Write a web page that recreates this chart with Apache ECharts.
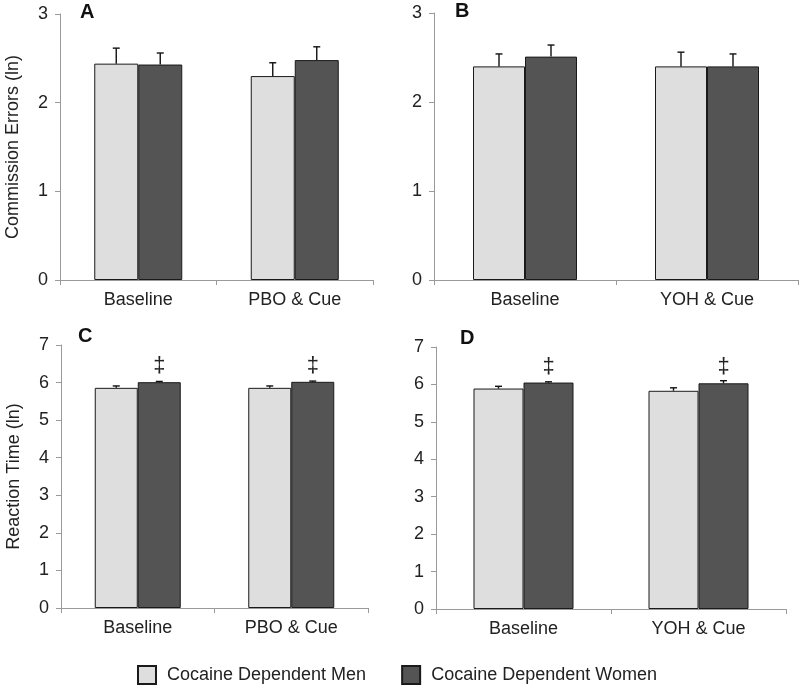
<!DOCTYPE html>
<html>
<head>
<meta charset="utf-8">
<script src="https://cdn.jsdelivr.net/npm/echarts@6/dist/echarts.min.js"></script>
<style>
  html, body { margin: 0; padding: 0; background: #fff; }
  #main { width: 800px; height: 686px; }
</style>
</head>
<body>
<div id="main"></div>
<script>
// categories
var catsPBO = ['Baseline', 'PBO & Cue'];
var catsYOH = ['Baseline', 'YOH & Cue'];
var seriesNames = ['Cocaine Dependent Men', 'Cocaine Dependent Women'];
var panelLetters = ['A', 'B', 'C', 'D'];

// A: commission errors, PBO
var menA = [2.44, 2.30];
var menAErr = [0.175, 0.15];
var womenA = [2.43, 2.48];
var womenAErr = [0.13, 0.15];
// B: commission errors, YOH
var menB = [2.40, 2.40];
var menBErr = [0.14, 0.16];
var womenB = [2.51, 2.40];
var womenBErr = [0.13, 0.14];
// C: reaction time, PBO
var menC = [5.86, 5.86];
var menCErr = [0.05, 0.05];
var womenC = [6.01, 6.02];
var womenCErr = [0.02, 0.02];
// D: reaction time, YOH
var menD = [5.89, 5.83];
var menDErr = [0.06, 0.08];
var womenD = [6.05, 6.03];
var womenDErr = [0.02, 0.07];

var FONT = 'Liberation Sans';
var MEN_COLOR = '#dedede';
var WOMEN_COLOR = '#545454';

var panels = [
    { cats: catsPBO, men: menA, menErr: menAErr, women: womenA, womenErr: womenAErr, yMax: 3, mark: false,
      grid: { left: 60, right: 427, top: 14, bottom: 406 }, barW: 44, yName: 'Commission Errors (ln)', letter: [80, 2] },
    { cats: catsYOH, men: menB, menErr: menBErr, women: womenB, womenErr: womenBErr, yMax: 3, mark: false,
      grid: { left: 434, right: 2, top: 13, bottom: 406 }, barW: 52, yName: '', letter: [455, 1] },
    { cats: catsPBO, men: menC, menErr: menCErr, women: womenC, womenErr: womenCErr, yMax: 7, mark: true,
      grid: { left: 61, right: 432, top: 345, bottom: 78 }, barW: 43, yName: 'Reaction Time (ln)', letter: [78, 326] },
    { cats: catsYOH, men: menD, menErr: menDErr, women: womenD, womenErr: womenDErr, yMax: 7, mark: true,
      grid: { left: 436, right: 14, top: 347, bottom: 77 }, barW: 50, yName: '', letter: [460, 328] }
];

// upper error bar only, drawn through the axis coords
function errRender(offset) {
    return function (params, api) {
        var x = api.value(0), v = api.value(1), e = api.value(2);
        var base = api.coord([x, v]);
        var top = api.coord([x, v + e]);
        var cx = base[0] + offset;
        var st = { stroke: '#111', lineWidth: 1.4 };
        return {
            type: 'group',
            children: [
                { type: 'line', shape: { x1: cx, y1: base[1], x2: cx, y2: top[1] }, style: st },
                { type: 'line', shape: { x1: cx - 3.5, y1: top[1], x2: cx + 3.5, y2: top[1] }, style: st }
            ]
        };
    };
}

var grids = [], xAxes = [], yAxes = [], series = [], titles = [];
panels.forEach(function (p, i) {
    grids.push(p.grid);
    xAxes.push({
        type: 'category', gridIndex: i, data: p.cats,
        axisLine: { lineStyle: { color: '#9a9a9a', width: 1 } },
        axisTick: { show: true, length: 5, lineStyle: { color: '#9a9a9a' } },
        axisLabel: { fontFamily: FONT, fontSize: 18, color: '#222', margin: 11 }
    });
    yAxes.push({
        type: 'value', gridIndex: i, min: 0, max: p.yMax, interval: 1,
        name: p.yName, nameLocation: 'middle', nameGap: 38,
        nameTextStyle: { fontFamily: FONT, fontSize: 18, color: '#222' },
        axisLine: { show: true, lineStyle: { color: '#9a9a9a', width: 1 } },
        axisTick: { show: true, length: 5, lineStyle: { color: '#9a9a9a' } },
        splitLine: { show: false },
        axisLabel: { fontFamily: FONT, fontSize: 18, color: '#222', margin: 12 }
    });
    titles.push({
        text: panelLetters[i], left: p.letter[0], top: p.letter[1], padding: 0,
        textStyle: { fontFamily: FONT, fontSize: 20, fontWeight: 'bold', color: '#111' }
    });
    series.push({
        name: seriesNames[0], type: 'bar', xAxisIndex: i, yAxisIndex: i,
        data: p.men, barWidth: p.barW, barGap: '0%',
        itemStyle: { color: MEN_COLOR, borderColor: '#1a1a1a', borderWidth: 1 }
    });
    series.push({
        name: seriesNames[1], type: 'bar', xAxisIndex: i, yAxisIndex: i,
        data: p.women, barWidth: p.barW, barGap: '0%',
        itemStyle: { color: WOMEN_COLOR, borderColor: '#1a1a1a', borderWidth: 1 },
        label: {
            show: p.mark, position: 'top', distance: 5, formatter: '\u2021',
            fontFamily: FONT, fontSize: 22, color: '#222'
        }
    });
    series.push({
        type: 'custom', xAxisIndex: i, yAxisIndex: i, z: 5,
        renderItem: errRender(-p.barW / 2),
        encode: { x: 0, y: 1 },
        data: p.men.map(function (v, k) { return [k, v, p.menErr[k]]; })
    });
    series.push({
        type: 'custom', xAxisIndex: i, yAxisIndex: i, z: 5,
        renderItem: errRender(p.barW / 2),
        encode: { x: 0, y: 1 },
        data: p.women.map(function (v, k) { return [k, v, p.womenErr[k]]; })
    });
});

var chart = echarts.init(document.getElementById('main'));
chart.setOption({
    animation: false,
    backgroundColor: '#fff',
    title: titles,
    grid: grids,
    xAxis: xAxes,
    yAxis: yAxes,
    legend: {
        data: seriesNames, left: 137, top: 665, padding: 0, icon: 'rect',
        itemWidth: 18, itemHeight: 18, itemGap: 35,
        textStyle: { fontFamily: FONT, fontSize: 18, color: '#222', padding: [0, 0, 0, 6] }
    },
    series: series
});
</script>
</body>
</html>
